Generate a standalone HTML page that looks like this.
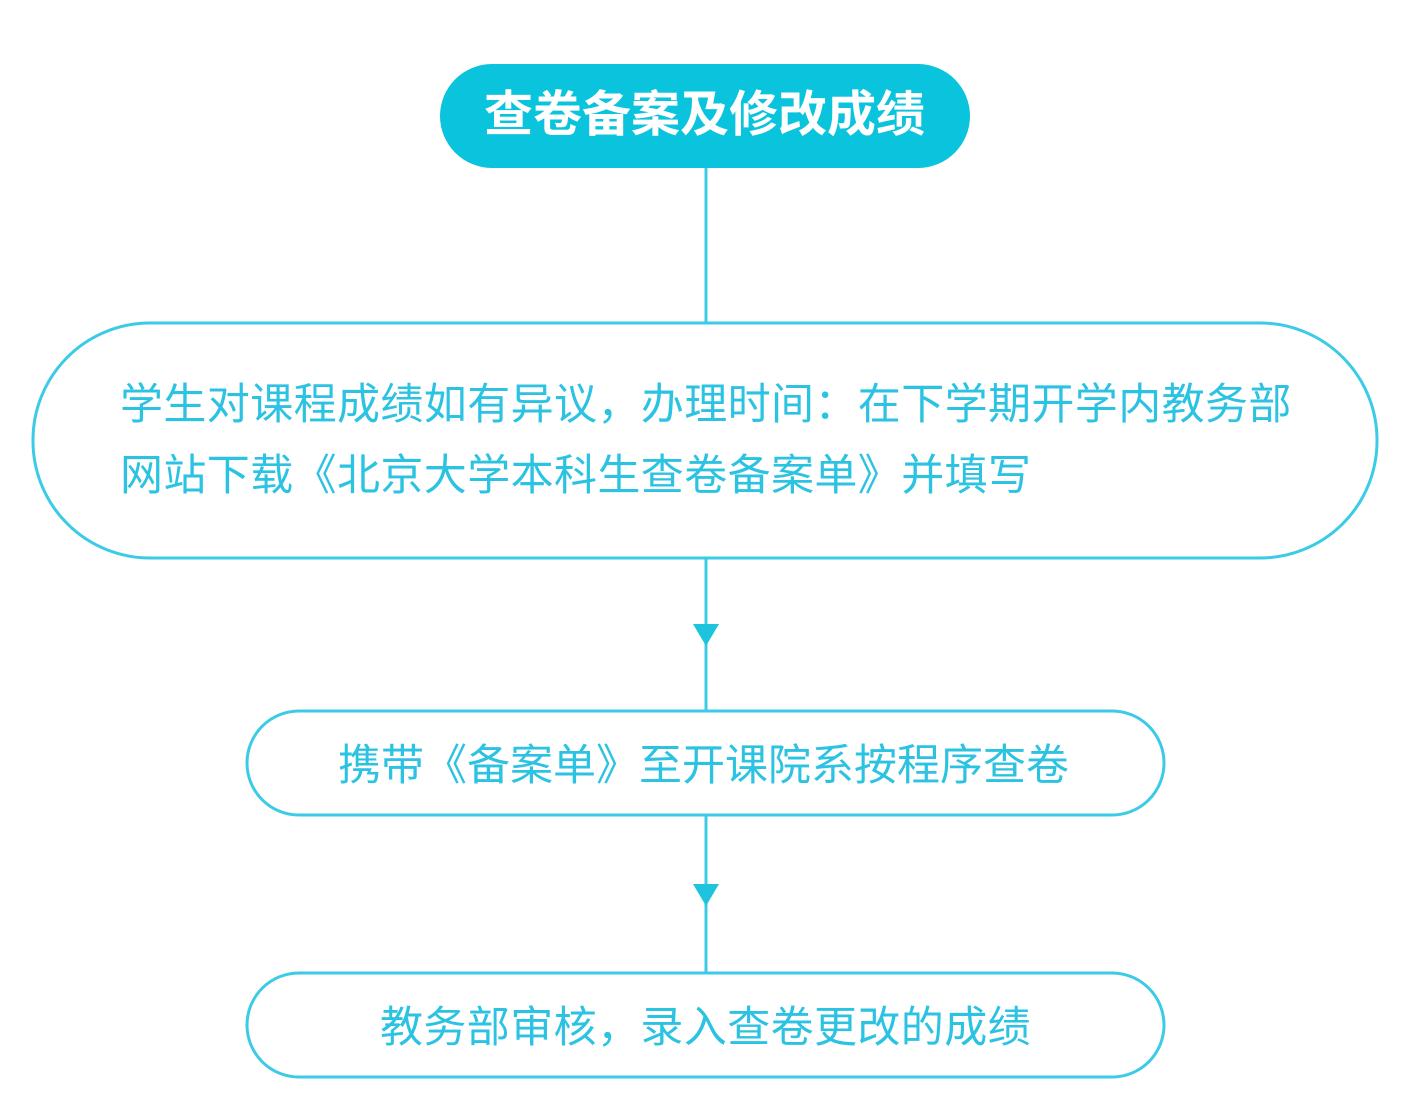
<!DOCTYPE html>
<html><head><meta charset="utf-8"><style>
body{margin:0;background:#fff;width:1423px;height:1111px;overflow:hidden;position:relative;font-family:"Liberation Sans","Noto Sans CJK SC",sans-serif}
.t{position:absolute;white-space:nowrap;color:#2cc3e2;font-size:42px;line-height:1}
</style></head><body>
<svg width="1423" height="1111" style="position:absolute;left:0;top:0">
<rect x="440" y="64" width="530" height="104" rx="52" fill="#0ac3dc"/>
<line x1="706" y1="168" x2="706" y2="322" stroke="#3ccbe6" stroke-width="3"/>
<rect x="33" y="323" width="1344" height="235" rx="117" fill="none" stroke="#3ccbe6" stroke-width="3"/>
<line x1="706" y1="558" x2="706" y2="710" stroke="#3ccbe6" stroke-width="3"/>
<path d="M693 624 L719 624 L706 646 Z" fill="#1ec3de"/>
<rect x="247" y="711" width="917" height="104" rx="52" fill="none" stroke="#3ccbe6" stroke-width="3"/>
<line x1="706" y1="815" x2="706" y2="972" stroke="#3ccbe6" stroke-width="3"/>
<path d="M693 884 L719 884 L706 906 Z" fill="#1ec3de"/>
<rect x="247" y="973" width="917" height="104" rx="52" fill="none" stroke="#3ccbe6" stroke-width="3"/>
</svg>
<div class="t" style="left:484px;top:91px;color:#fff;font-size:49px;font-weight:bold">查卷备案及修改成绩</div>
<div class="t" style="left:120px;top:384px;font-size:43px;letter-spacing:0.4px">学生对课程成绩如有异议，办理时间：在下学期开学内教务部</div>
<div class="t" style="left:120px;top:455px;font-size:43px;letter-spacing:0.4px">网站下载《北京大学本科生查卷备案单》并填写</div>
<div class="t" style="left:338px;top:745px;font-size:43px">携带《备案单》至开课院系按程序查卷</div>
<div class="t" style="left:380px;top:1007px;font-size:43px;letter-spacing:0.4px">教务部审核，录入查卷更改的成绩</div>
</body></html>
